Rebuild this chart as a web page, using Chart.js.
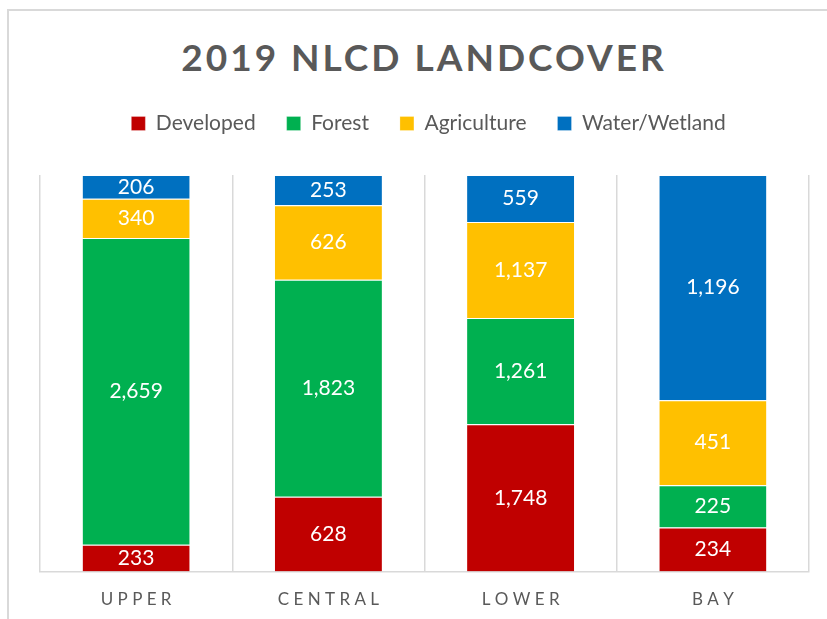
<!DOCTYPE html>
<html>
<head>
<meta charset="utf-8">
<script src="https://cdn.jsdelivr.net/npm/chart.js@4/dist/chart.umd.min.js"></script>
<style>
  html, body { margin: 0; padding: 0; background: #fff; overflow: hidden; }
  #frame { position: absolute; left: 7px; top: 9px; width: 900px; height: 700px; border: 2px solid #d9d9d9; }
  #titulo { position: absolute; left: 0; top: 34px; width: 848px; text-align: center;
            font: bold 37px Lato, sans-serif; letter-spacing: 3px; color: #595959; }
  #grafico { position: absolute; left: 0; top: 0; }
</style>
</head>
<body>
<div id="frame"></div>
<div id="titulo">2019 NLCD LANDCOVER</div>
<canvas id="grafico" width="827" height="619"></canvas>
<script>
// valores
var regioes = ['UPPER', 'CENTRAL', 'LOWER', 'BAY']
var developed = [233, 628, 1748, 234]
var forest = [2659, 1823, 1261, 225]
var agriculture = [340, 626, 1137, 451]
var water = [206, 253, 559, 1196]

var series = [
    ['Developed', developed, '#C00000'],
    ['Forest', forest, '#00B050'],
    ['Agriculture', agriculture, '#FFC000'],
    ['Water/Wetland', water, '#0070C0']
]

var totais = regioes.map(function(r, i){
    return developed[i] + forest[i] + agriculture[i] + water[i]
})

function espacado(txt){
    return txt.split('').join(' ')
}

// desenha os numeros dentro das barras
const rotulos = {
    id: 'rotulos',
    afterDatasetsDraw(chart){
        const ctx = chart.ctx
        ctx.save()
        ctx.font = '21px Lato, sans-serif'
        ctx.fillStyle = '#ffffff'
        ctx.textAlign = 'center'
        ctx.textBaseline = 'middle'
        chart.data.datasets.forEach(function(ds, d){
            chart.getDatasetMeta(d).data.forEach(function(bar, i){
                const y = (bar.y + bar.base) / 2
                ctx.fillText(ds.valores[i].toLocaleString('en-US'), bar.x, y)
            })
        })
        ctx.restore()
    }
}

// espaco extra entre a legenda e as barras
const espacoLegenda = {
    id: 'espacoLegenda',
    afterInit(chart){
        const fitOriginal = chart.legend.fit
        chart.legend.fit = function(){
            fitOriginal.call(this)
            this.height += 31
        }
    },
    afterLayout(chart){
        chart.legend.left += 4
        chart.legend.right += 4
    }
}

const ctx = document.getElementById('grafico').getContext('2d');
const myChart = new Chart(ctx, {
    type: 'bar',
    data: {
        labels: regioes,
        datasets: series.map(function(s){
            return {
                label: s[0],
                valores: s[1],
                data: s[1].map(function(v, i){ return v / totais[i] * 100 }),
                backgroundColor: s[2],
                borderColor: '#ffffff',
                borderWidth: {top: 1, bottom: 0, left: 0, right: 0},
                borderSkipped: false,
                categoryPercentage: 1,
                barPercentage: 0.557
            }
        })
    },
    options: {
        responsive: false,
        animation: false,
        layout: {
            padding: {top: 82, left: 40, right: 18, bottom: -9}
        },
        plugins: {
            legend: {
                display: true,
                position: 'top',
                labels: {
                    boxWidth: 14,
                    boxHeight: 14,
                    padding: 31,
                    color: '#595959',
                    font: {size: 21, family: 'Lato, sans-serif'}
                }
            },
            tooltip: {enabled: false}
        },
        scales: {
            x: {
                stacked: true,
                grid: {color: '#d9d9d9', lineWidth: 1.5, drawTicks: false, offset: true},
                border: {color: '#d9d9d9', width: 1.5},
                ticks: {
                    padding: 18,
                    color: '#595959',
                    font: {size: 17, family: 'Lato, sans-serif'},
                    callback: function(v){ return espacado(this.getLabelForValue(v)) }
                }
            },
            y: {
                stacked: true,
                display: false,
                min: 0,
                max: 100
            }
        }
    },
    plugins: [rotulos, espacoLegenda]
});
</script>
</body>
</html>
